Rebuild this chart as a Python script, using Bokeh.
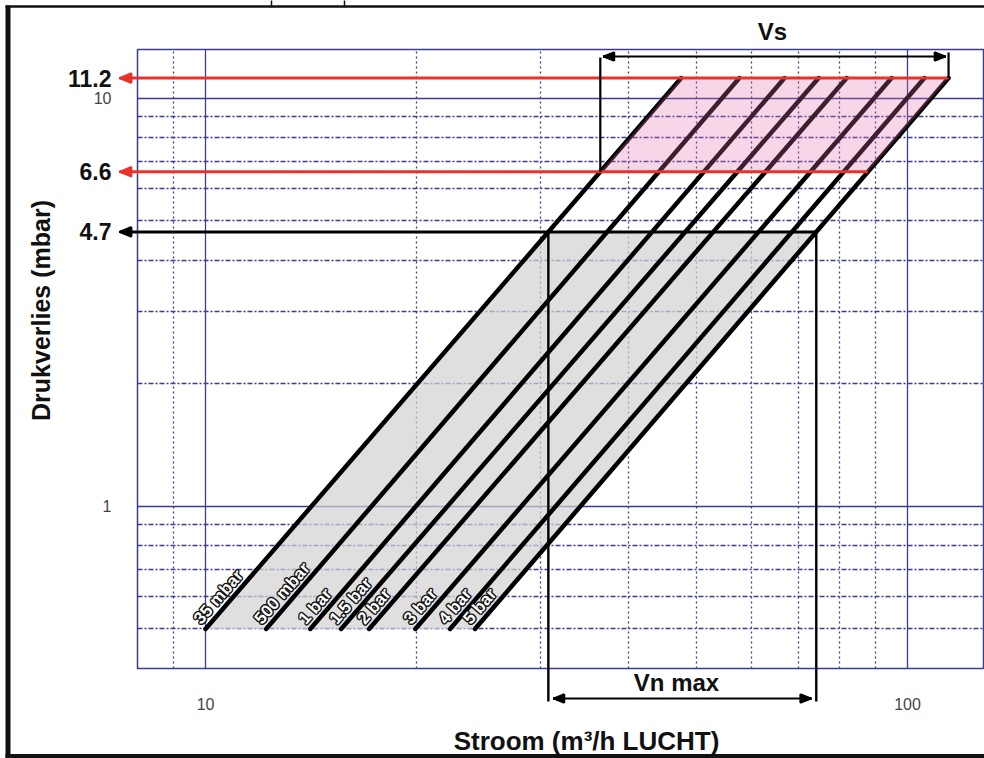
import numpy as np
from bokeh.plotting import figure
from bokeh.models import Range1d, FixedTicker
from bokeh.core.properties import value
from bokeh.embed import file_html
from bokeh.resources import INLINE

# ---------------- data ----------------
pressure_labels = ["35 mbar", "500 mbar", "1 bar", "1.5 bar", "2 bar", "3 bar", "4 bar", "5 bar"]
dp_low = 0.5          # mbar, lower end of each line
dp_top = 11.2         # mbar, upper end of each line
flow_at_dp_low = [10.0, 12.2, 14.1, 15.6, 17.1, 19.9, 22.3, 24.2]      # m3/h at 0.5 mbar
flow_at_dp_top = [47.6, 57.6, 66.8, 74.7, 81.9, 94.9, 105.7, 114.4]    # m3/h at 11.2 mbar

dp_marks = [11.2, 6.6, 4.7]
dp_mark_labels = ["11.2", "6.6", "4.7"]
vs_band = [6.6, 11.2]     # Vs zone (pink)
vn_band = [0.5, 4.7]      # Vn max zone (grey)

x_ticks = [10, 100]
x_tick_labels = ["10", "100"]
x_minor = [9, 20, 30, 40, 50, 60, 70, 80, 90]
y_ticks = [1, 10]
y_tick_labels = ["1", "10"]
y_minor = [0.5, 0.6, 0.7, 0.8, 0.9, 2, 3, 4, 5, 6, 7, 8, 9]

x_title = "Stroom (m³/h LUCHT)"
y_title = "Drukverlies (mbar)"


def flow_on_line(i, dp):
    lq0, lq1 = np.log10(flow_at_dp_low[i]), np.log10(flow_at_dp_top[i])
    t = (np.log10(dp) - np.log10(dp_low)) / (np.log10(dp_top) - np.log10(dp_low))
    return float(10 ** (lq0 + t * (lq1 - lq0)))


first, last = 0, len(pressure_labels) - 1

# ---------------- geometry ----------------
W, H = 984, 758
FL, FT, FB = 137, 49, 668       # frame left / top / bottom in picture pixels
ML, MT, MB = FL, FT, H - FB
X0, Y0 = 8.0, 0.4
PXX, PXY = 702.0, 408.0         # pixels per decade
fw, fh = W - ML, H - MT - MB
X1 = X0 * 10 ** (fw / PXX)
Y1 = Y0 * 10 ** (fh / PXY)


def dx(px):
    return X0 * 10 ** ((px - FL) / PXX)


def dy(py):
    return Y0 * 10 ** ((FB - py) / PXY)


def shx(x, px):
    return x * 10 ** (px / PXX)


def shy(y, px):
    return y * 10 ** (px / PXY)


def head_fan(x_tip, y, direction, length, half, n=9):
    # arrow head drawn as a fan of short strokes (direction -1 = left, +1 = right)
    xb = shx(x_tip, -direction * length)
    offs = np.linspace(-half, half, n)
    x0 = [x_tip] * n + [xb]
    y0 = [y] * n + [shy(y, -half)]
    x1 = [xb] * n + [xb]
    y1 = [shy(y, o) for o in offs] + [shy(y, half)]
    return x0, y0, x1, y1


GRID = "#3d3d8f"
RED = "#e8322b"
FONT = "Liberation Sans"

p = figure(width=W, height=H, x_axis_type="log", y_axis_type="log",
           x_range=Range1d(X0, X1), y_range=Range1d(Y0, Y1),
           output_backend="svg", toolbar_location=None,
           min_border_left=ML, min_border_right=0, min_border_top=MT, min_border_bottom=MB)
p.background_fill_color = "white"
p.border_fill_color = "white"
p.outline_line_color = GRID
p.outline_line_width = 1.5

xt = FixedTicker(ticks=x_ticks, minor_ticks=x_minor)
yt = FixedTicker(ticks=y_ticks, minor_ticks=y_minor)
p.xaxis.ticker = xt
p.yaxis.ticker = yt
p.xgrid.ticker = xt
p.ygrid.ticker = yt
p.xaxis.major_label_overrides = {float(t): s for t, s in zip(x_ticks, x_tick_labels)}
p.yaxis.major_label_overrides = {float(t): s for t, s in zip(y_ticks, y_tick_labels)}
for ax in (p.xaxis, p.yaxis):
    ax.axis_line_color = None
    ax.major_tick_line_color = None
    ax.minor_tick_line_color = None
    ax.major_label_text_font = FONT
    ax.major_label_text_font_size = "16px"
    ax.major_label_text_color = "#444444"
p.xaxis.major_label_standoff = 23
p.yaxis.major_label_standoff = 20

p.xgrid.grid_line_color = GRID
p.xgrid.grid_line_width = 1.3
p.xgrid.minor_grid_line_color = GRID
p.xgrid.minor_grid_line_width = 1.3
p.xgrid.minor_grid_line_dash = "2 3"
p.ygrid.grid_line_color = GRID
p.ygrid.grid_line_width = 1.3
p.ygrid.minor_grid_line_color = GRID
p.ygrid.minor_grid_line_width = 1.5
p.ygrid.minor_grid_line_dash = "5 2 2 2"

# grey zone (Vn max)
gx = [flow_on_line(first, vn_band[0]), flow_on_line(last, vn_band[0]),
      flow_on_line(last, vn_band[1]), flow_on_line(first, vn_band[1])]
gy = [vn_band[0], vn_band[0], vn_band[1], vn_band[1]]
p.patch(gx, gy, fill_color="#d2d2d2", fill_alpha=0.7, line_color=None)

# characteristic lines
p.multi_line(xs=[[a, b] for a, b in zip(flow_at_dp_low, flow_at_dp_top)],
             ys=[[dp_low, dp_top] for _ in pressure_labels],
             line_color="black", line_width=4.5, line_cap="round")

# pink zone (Vs)
px_ = [flow_on_line(first, vs_band[0]), flow_on_line(last, vs_band[0]),
       flow_on_line(last, vs_band[1]), flow_on_line(first, vs_band[1])]
py_ = [vs_band[0], vs_band[0], vs_band[1], vs_band[1]]
p.patch(px_, py_, fill_color="#e36aa8", fill_alpha=0.28, line_color=None)

# rotated line labels (white with dark outline)
slope = ((np.log10(dp_top) - np.log10(dp_low)) * PXY /
         ((np.log10(flow_at_dp_top[0]) - np.log10(flow_at_dp_low[0])) * PXX))
ang = float(np.arctan(slope))
nx, ny = -np.sin(ang), -np.cos(ang)   # screen normal towards upper-left
base_off = 1.5
lbl_y = [dp_low] * len(pressure_labels)
for ox, oy in [(-1, -1), (1, -1), (-1, 1), (1, 1), (-1.4, 0), (1.4, 0), (0, -1.4), (0, 1.4)]:
    p.text(x=flow_at_dp_low, y=lbl_y, text=pressure_labels, angle=ang,
           x_offset=base_off * nx + ox, y_offset=base_off * ny + oy,
           text_align="left", text_baseline="bottom", text_color="#111111",
           text_font=value(FONT), text_font_size="17px", text_font_style="bold")
p.text(x=flow_at_dp_low, y=lbl_y, text=pressure_labels, angle=ang,
       x_offset=base_off * nx, y_offset=base_off * ny,
       text_align="left", text_baseline="bottom", text_color="white",
       text_font=value(FONT), text_font_size="17px", text_font_style="bold")

# pressure marker arrows and labels
mark_colors = [RED, RED, "black"]
tip_x = dx(119)
p.segment(x0=[flow_on_line(last, d) for d in dp_marks], y0=dp_marks,
          x1=[shx(tip_x, 8)] * len(dp_marks), y1=dp_marks,
          line_color=mark_colors, line_width=3, level="overlay")
for d, c in zip(dp_marks, mark_colors):
    x0, y0, x1, y1 = head_fan(tip_x, d, -1, 12, 5)
    p.segment(x0=x0, y0=y0, x1=x1, y1=y1, line_color=c, line_width=1.8, level="overlay")
p.text(x=[dx(111)] * len(dp_marks), y=dp_marks, text=dp_mark_labels,
       text_align="right", text_baseline="middle", text_color="#111111",
       text_font=value(FONT), text_font_size="23px", text_font_style="bold", level="overlay")

# Vs dimension
vs_l = flow_on_line(first, vs_band[0])
vs_r = flow_on_line(last, vs_band[1])
y_vs = dy(56)
p.segment(x0=[vs_l, vs_r], y0=[vs_band[0], vs_band[1]], x1=[vs_l, vs_r], y1=[dy(57), dy(52)],
          line_color="black", line_width=2.2, level="overlay")
p.segment(x0=[shx(vs_l, 6)], y0=[y_vs], x1=[shx(vs_r, -6)], y1=[y_vs],
          line_color="black", line_width=2, level="overlay")
for xt_, dirn in [(shx(vs_l, 3), -1), (shx(vs_r, -3), 1)]:
    x0, y0, x1, y1 = head_fan(xt_, y_vs, dirn, 11, 4.5)
    p.segment(x0=x0, y0=y0, x1=x1, y1=y1, line_color="black", line_width=1.8, level="overlay")
p.text(x=[dx(772)], y=[dy(31)], text=["Vs"], text_align="center", text_baseline="middle",
       text_color="#111111", text_font=value(FONT), text_font_size="24px",
       text_font_style="bold", level="overlay")

# Vn max dimension
vn_l = flow_on_line(first, vn_band[1])
vn_r = flow_on_line(last, vn_band[1])
y_vn = dy(698)
p.segment(x0=[vn_l, vn_r], y0=[vn_band[1], vn_band[1]], x1=[vn_l, vn_r], y1=[dy(701), dy(701)],
          line_color="black", line_width=2.4, level="overlay")
p.segment(x0=[shx(vn_l, 8)], y0=[y_vn], x1=[shx(vn_r, -8)], y1=[y_vn],
          line_color="black", line_width=2, level="overlay")
for xt_, dirn in [(shx(vn_l, 5), -1), (shx(vn_r, -5), 1)]:
    x0, y0, x1, y1 = head_fan(xt_, y_vn, dirn, 11, 4.5)
    p.segment(x0=x0, y0=y0, x1=x1, y1=y1, line_color="black", line_width=1.8, level="overlay")
p.text(x=[dx(676)], y=[dy(682)], text=["Vn max"], text_align="center", text_baseline="middle",
       text_color="#111111", text_font=value(FONT), text_font_size="24px",
       text_font_style="bold", level="overlay")

# axis titles
p.text(x=[dx(586)], y=[dy(740)], text=[x_title], text_align="center", text_baseline="middle",
       text_color="#111111", text_font=value(FONT), text_font_size="26px",
       text_font_style="bold", level="overlay")
p.text(x=[dx(40)], y=[dy(310)], text=[y_title], angle=np.pi / 2, text_align="center",
       text_baseline="middle", text_color="#111111", text_font=value(FONT),
       text_font_size="25px", text_font_style="bold", level="overlay")

# outer picture frame (left, top, bottom edges) and the two small marks above it
p.segment(x0=[dx(7.5), dx(5), dx(5), dx(271), dx(344)],
          y0=[dy(5), dy(6), dy(755.5), dy(0), dy(0)],
          x1=[dx(7.5), dx(984), dx(984), dx(271), dx(344)],
          y1=[dy(757), dy(6), dy(755.5), dy(7), dy(7)],
          line_color="#111111", line_width=[5, 2.5, 4, 1.5, 1.5], level="overlay")

open("out.html", "w").write(file_html(p, INLINE))
